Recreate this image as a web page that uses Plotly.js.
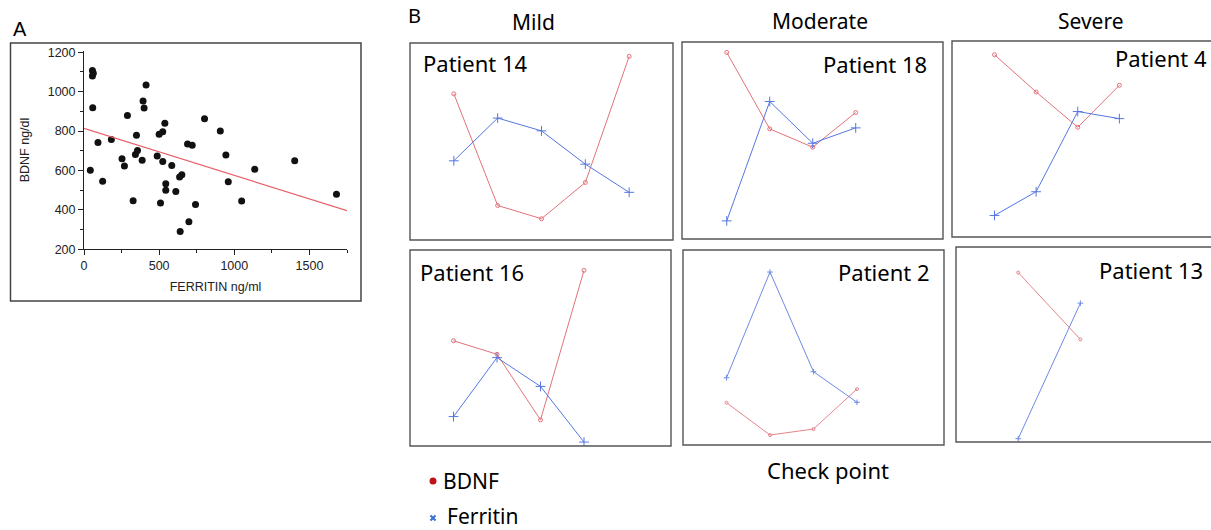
<!DOCTYPE html>
<html>
<head>
<meta charset="utf-8">
<script src="https://cdn.plot.ly/plotly-3.0.1.min.js"></script>
<style>html,body{margin:0;padding:0;background:#fff;}#chart{width:1211px;height:530px;}</style>
</head>
<body>
<div id="chart"></div>
<script>
// ---------- Panel A data: ferritin (ng/ml) vs BDNF (ng/dl) ----------
const ferritin = [56, 62, 56, 58, 42, 93, 124, 182, 253, 269, 289, 327, 349, 342, 356, 387, 393, 400, 413,
  487, 500, 524, 538, 509, 524, 544, 544, 584, 611, 636, 651, 640, 689, 720, 698, 742, 802, 907, 944, 960,
  1049, 1136, 1402, 1680];
const bdnf = [1107, 1093, 1080, 919, 601, 742, 545, 757, 659, 623, 879, 447, 779, 681, 701, 652, 953, 917, 1034,
  674, 784, 796, 840, 435, 645, 533, 500, 625, 494, 567, 579, 290, 735, 728, 340, 428, 862, 801, 679, 543,
  445, 606, 650, 479];
const fitX = [0, 1750];
const fitY = [814, 396];

// ---------- Panel B data: relative levels at each check point ----------
const checkpoints = [1, 2, 3, 4, 5];
const p14_bdnf = [74.2, 17.5, 10.8, 29.2, 93.2];
const p14_fer  = [40.2, 61.9, 55.4, 38.5, 24.2];
const p18_bdnf = [94.7, 55.9, 46.6, 64.2];
const p18_fer  = [9.2, 69.8, 48.6, 56.4];
const p4_bdnf  = [93.0, 74.0, 56.0, 77.4];
const p4_fer   = [11.0, 23.1, 64.0, 60.4];
const p16_bdnf = [53.7, 46.8, 13.3, 89.6];
const p16_fer  = [15.0, 45.1, 30.4, 2.0];
const p2_bdnf  = [21.7, 5.1, 8.2, 28.7];
const p2_fer   = [34.5, 88.7, 37.6, 21.9];
const p13_bdnf = [86.9, 52.6];
const p13_fer  = [1.7, 71.2];

const W = 1211, H = 530;
const px = x => x / W;
const py = y => 1 - y / H;

const RED = '#e2727a', BLUE = '#5577e0';
const bFont = 'Noto Sans, Open Sans, sans-serif';
const aFont = 'Liberation Sans, Arial, sans-serif';

// panel boxes in page pixels: [left, top, right, bottom], plus x range
const panels = [
  {name: 'Patient 14', box: [410, 43, 673, 240], xr: [0, 6],    b: p14_bdnf, f: p14_fer, lab: {x: 421, y: 63, anchor: 'left'}},
  {name: 'Patient 18', box: [682, 42, 943, 239], xr: [-0.04, 6.03], b: p18_bdnf, f: p18_fer, lab: {x: 929, y: 64, anchor: 'right'}},
  {name: 'Patient 4',  box: [952, 41, 1225, 237], xr: [-0.02, 6.2], b: p4_bdnf,  f: p4_fer,  lab: {x: 1209, y: 58, anchor: 'right'}},
  {name: 'Patient 16', box: [410, 250, 671, 446], xr: [0, 6],    b: p16_bdnf, f: p16_fer, lab: {x: 418, y: 272, anchor: 'left'}},
  {name: 'Patient 2',  box: [683, 250, 944, 445], xr: [0, 6],    b: p2_bdnf,  f: p2_fer,  lab: {x: 932, y: 272, anchor: 'right'}},
  {name: 'Patient 13', box: [956, 247, 1225, 442], xr: [0, 4.1], b: p13_bdnf, f: p13_fer, lab: {x: 1205, y: 270, anchor: 'right'}}
];

const traces = [];
traces.push({
  type: 'scatter', mode: 'markers', x: ferritin, y: bdnf, xaxis: 'x', yaxis: 'y',
  marker: {color: '#111', size: 7}, showlegend: false, hoverinfo: 'x+y'
});
traces.push({
  type: 'scatter', mode: 'lines', x: fitX, y: fitY, xaxis: 'x', yaxis: 'y',
  line: {color: '#e8606b', width: 1.2}, showlegend: false
});

const layout = {
  width: W, height: H,
  margin: {l: 0, r: 0, t: 0, b: 0},
  paper_bgcolor: '#fff', plot_bgcolor: 'rgba(0,0,0,0)',
  showlegend: false,
  xaxis: {
    domain: [px(84), px(347)], range: [0, 1750], anchor: 'y',
    showgrid: false, zeroline: false, showline: true, linecolor: '#222', linewidth: 1,
    ticks: 'outside', ticklen: 5, tickcolor: '#222', dtick: 500, tick0: 0,
    minor: {ticks: 'outside', ticklen: 3, dtick: 250, tickcolor: '#222'},
    tickfont: {family: aFont, size: 12.5, color: '#222'},
    title: {text: 'FERRITIN ng/ml', font: {family: aFont, size: 12.5, color: '#222'}, standoff: 9}
  },
  yaxis: {
    domain: [py(249.3), py(50.7)], range: [200, 1208], anchor: 'x',
    showgrid: false, zeroline: false, showline: true, linecolor: '#222', linewidth: 1,
    ticks: 'outside', ticklen: 5, tickcolor: '#222', tickvals: [200, 400, 600, 800, 1000, 1200],
    minor: {ticks: 'outside', ticklen: 3, tickvals: [300, 500, 700, 900, 1100], tickcolor: '#222'},
    tickfont: {family: aFont, size: 12.5, color: '#222'},
    title: {text: 'BDNF ng/dl', font: {family: aFont, size: 12.5, color: '#222'}, standoff: 15}
  },
  shapes: [
    {type: 'rect', xref: 'paper', yref: 'paper', x0: px(10.5), x1: px(361), y0: py(301), y1: py(43),
     line: {color: '#444', width: 1.5}, fillcolor: 'rgba(0,0,0,0)'}
  ],
  annotations: [
    {text: 'A', xref: 'paper', yref: 'paper', x: px(11), y: py(29), xanchor: 'left', yanchor: 'middle',
     showarrow: false, font: {family: aFont, size: 20, color: '#000'}},
    {text: 'B', xref: 'paper', yref: 'paper', x: px(406), y: py(16), xanchor: 'left', yanchor: 'middle',
     showarrow: false, font: {family: bFont, size: 20, color: '#000'}},
    {text: 'Mild', xref: 'paper', yref: 'paper', x: px(533), y: py(22), xanchor: 'center', yanchor: 'middle',
     showarrow: false, font: {family: bFont, size: 21, color: '#000'}},
    {text: 'Moderate', xref: 'paper', yref: 'paper', x: px(820), y: py(21), xanchor: 'center', yanchor: 'middle',
     showarrow: false, font: {family: bFont, size: 21, color: '#000'}},
    {text: 'Severe', xref: 'paper', yref: 'paper', x: px(1091), y: py(21), xanchor: 'center', yanchor: 'middle',
     showarrow: false, font: {family: bFont, size: 21, color: '#000'}},
    {text: 'Check point', xref: 'paper', yref: 'paper', x: px(828), y: py(470), xanchor: 'center', yanchor: 'middle',
     showarrow: false, font: {family: bFont, size: 22, color: '#000'}},
    {text: 'BDNF', xref: 'paper', yref: 'paper', x: px(441), y: py(481), xanchor: 'left', yanchor: 'middle',
     showarrow: false, font: {family: bFont, size: 21, color: '#000'}},
    {text: 'Ferritin', xref: 'paper', yref: 'paper', x: px(445), y: py(516), xanchor: 'left', yanchor: 'middle',
     showarrow: false, font: {family: bFont, size: 21, color: '#000'}}
  ]
};

// legend swatches (decorative shapes)
layout.shapes.push({type: 'circle', xref: 'paper', yref: 'paper', x0: px(429.5), x1: px(436.5), y0: py(484.5), y1: py(477.5),
  fillcolor: '#c0101a', line: {width: 0}});
layout.shapes.push({type: 'line', xref: 'paper', yref: 'paper', x0: px(430.5), x1: px(435.5), y0: py(515.5), y1: py(520.5),
  line: {color: '#3a6ed0', width: 2}});
layout.shapes.push({type: 'line', xref: 'paper', yref: 'paper', x0: px(430.5), x1: px(435.5), y0: py(520.5), y1: py(515.5),
  line: {color: '#3a6ed0', width: 2}});

panels.forEach((p, i) => {
  const n = i + 2;
  const xa = 'x' + n, ya = 'y' + n;
  const [l, t, r, b] = p.box;
  layout['xaxis' + n] = {domain: [px(l), Math.min(1, px(r))], range: p.xr, anchor: ya, visible: false, fixedrange: true};
  layout['yaxis' + n] = {domain: [py(b), py(t)], range: [0, 100], anchor: xa, visible: false, fixedrange: true};
  layout.shapes.push({type: 'rect', xref: 'paper', yref: 'paper', x0: px(l), x1: px(r), y0: py(b), y1: py(t),
    line: {color: '#555', width: 1.4}, fillcolor: 'rgba(0,0,0,0)'});
  const xs = checkpoints.slice(0, p.b.length);
  const faint = (p.name === 'Patient 2' || p.name === 'Patient 13');
  traces.push({
    type: 'scatter', mode: 'lines+markers', name: 'BDNF', x: xs, y: p.b, xaxis: xa, yaxis: ya,
    line: {color: RED, width: 1}, opacity: faint ? 0.85 : 1,
    marker: {symbol: 'circle-open', size: faint ? 3 : 4, color: RED, line: {width: 1}}, showlegend: false
  });
  traces.push({
    type: 'scatter', mode: 'lines+markers', name: 'Ferritin', x: xs, y: p.f, xaxis: xa, yaxis: ya,
    line: {color: BLUE, width: 1}, opacity: faint ? 0.85 : 1,
    marker: {symbol: 'cross-thin', size: faint ? 4 : 7, color: BLUE, line: {width: 1, color: BLUE}}, showlegend: false
  });
  layout.annotations.push({text: p.name, xref: 'paper', yref: 'paper', x: px(p.lab.x), y: py(p.lab.y),
    xanchor: p.lab.anchor, yanchor: 'middle', showarrow: false, font: {family: bFont, size: 22, color: '#000'}});
});

Plotly.newPlot('chart', traces, layout, {staticPlot: true, displayModeBar: false});
</script>
</body>
</html>
